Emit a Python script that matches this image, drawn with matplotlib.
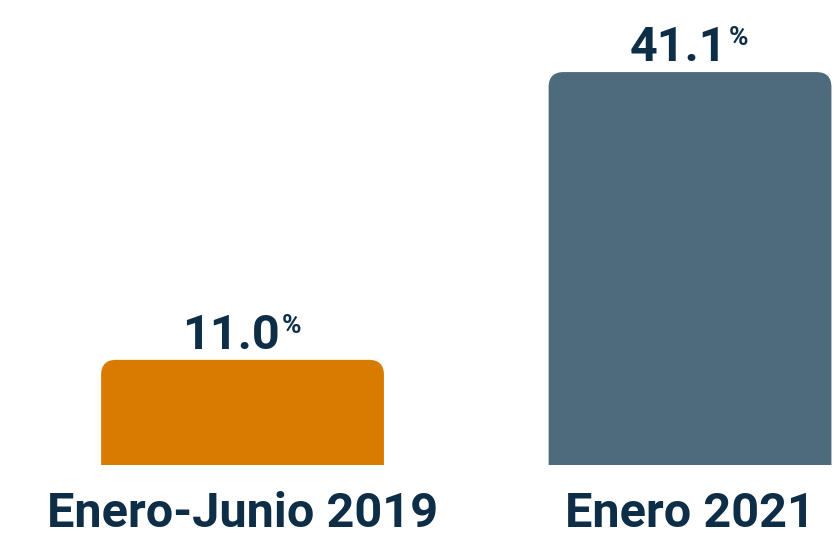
import matplotlib
matplotlib.use("Agg")
import matplotlib.pyplot as plt
from matplotlib.path import Path
from matplotlib.patches import PathPatch

categories = ["Enero-Junio 2019", "Enero 2021"]
values = [11.0, 41.1]
value_labels = ["11.0", "41.1"]
bar_colors = ["#D97B00", "#4E6A7D"]
text_color = "#0E2D47"

plt.rcParams['font.family'] = ['Roboto', 'DejaVu Sans']

fig = plt.figure(figsize=(8.35, 5.39), dpi=100)
ax = fig.add_axes([0, 0, 1, 1])
ax.set_xlim(-0.542, 1.324)
ax.set_ylim(-7.74, 48.64)
ax.axis("off")

bar_width = 0.632
x_pos = list(range(len(categories)))


def rounded_top_bar(ax, x, h, w, color, r_px=15):
    # corner radius in pixels, converted to data units on each axis
    fig.canvas.draw()
    to_data = ax.transData.inverted()
    (ox, oy), (px, py) = to_data.transform([(0, 0), (r_px, r_px)])
    rx, ry = px - ox, py - oy
    x0, x1 = x - w / 2, x + w / 2
    verts = [(x0, 0), (x0, h - ry), (x0, h), (x0 + rx, h),
             (x1 - rx, h), (x1, h), (x1, h - ry), (x1, 0), (x0, 0)]
    codes = [Path.MOVETO, Path.LINETO, Path.CURVE3, Path.CURVE3,
             Path.LINETO, Path.CURVE3, Path.CURVE3, Path.LINETO, Path.CLOSEPOLY]
    ax.add_patch(PathPatch(Path(verts, codes), facecolor=color, edgecolor="none"))


for x, v, lab, c in zip(x_pos, values, value_labels, bar_colors):
    rounded_top_bar(ax, x, v, bar_width, c)
    num = ax.annotate(lab, xy=(x - 0.025, v), xytext=(0, 8), textcoords="offset points",
                      ha="center", va="baseline", fontsize=35, fontweight="bold",
                      color=text_color)
    # small superscript percent sign next to the value
    ax.annotate("%", xy=(1, 0.97), xycoords=num, xytext=(1, 0), textcoords="offset points",
                ha="left", va="top", fontsize=19, fontweight="bold", color=text_color)

for x, cat in zip(x_pos, categories):
    ax.text(x, 0.004, cat, transform=ax.get_xaxis_transform(), ha="center", va="bottom",
            fontsize=35, fontweight="bold", color=text_color)

fig.savefig("out.png", dpi=100, facecolor="white")
